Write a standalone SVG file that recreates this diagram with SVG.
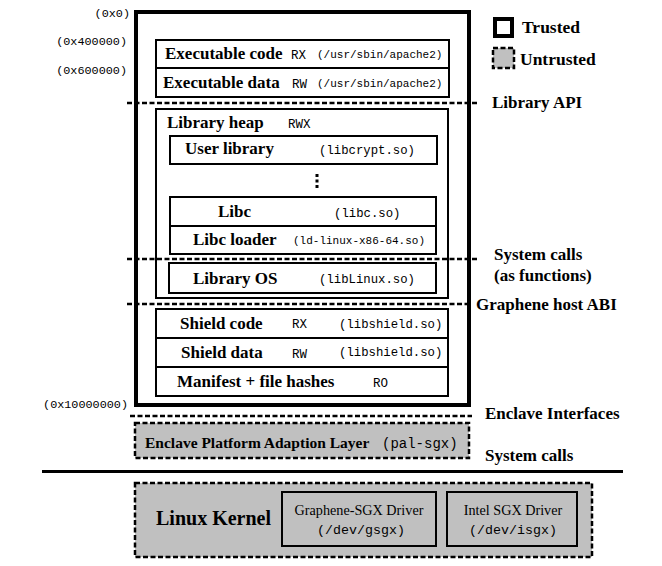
<svg xmlns="http://www.w3.org/2000/svg" width="662" height="566" viewBox="0 0 662 566">
<style>
.b{font-family:"Liberation Serif","Times New Roman",serif;font-weight:bold;font-size:17px;fill:#000}
.r{font-family:"Liberation Serif","Times New Roman",serif;font-size:14.2px;fill:#000}
.m{font-family:"Liberation Mono","Courier New",monospace;font-size:11px;fill:#000}
.p{font-family:"Liberation Mono","Courier New",monospace;font-size:12.5px;fill:#000}
.m12{font-family:"Liberation Mono","Courier New",monospace;font-size:12.3px;fill:#000}
.addr{font-family:"Liberation Mono","Courier New",monospace;font-size:11.8px;fill:#000;text-anchor:end}
.box{fill:#fff;stroke:#000;stroke-width:2}
.trusted{fill:#fff;stroke:#000;stroke-width:4}
.untr{fill:#c0c0c0;stroke:#000;stroke-width:2.5;stroke-dasharray:5 2.5}
.gbox{fill:#c0c0c0;stroke:#000;stroke-width:2}
.dash{stroke:#000;stroke-width:2.5;stroke-dasharray:5 2.5;fill:none}
</style>
<rect width="662" height="566" fill="#fff"/>
<g id="enclave">
<rect class="trusted" x="136" y="12" width="333" height="393"/>
</g>
<g id="exec-code"><rect class="box" x="156" y="40" width="293" height="28"/>
<text class="b" x="165" y="59">Executable code</text><text class="p" x="291" y="59">RX</text><text class="m" x="317" y="58">(/usr/sbin/apache2)</text></g>
<g id="exec-data"><rect class="box" x="156" y="68" width="293" height="29"/>
<text class="b" x="163" y="88">Executable data</text><text class="p" x="292" y="88">RW</text><text class="m" x="317" y="87">(/usr/sbin/apache2)</text></g>
<g id="library-heap"><rect class="box" x="156" y="109" width="292" height="189"/>
<text class="b" x="167" y="128">Library heap</text><text class="p" x="288" y="128">RWX</text></g>
<g id="user-library"><rect class="box" x="170" y="136" width="267" height="28"/>
<text class="b" x="185" y="154">User library</text><text class="m12" x="319" y="154">(libcrypt.so)</text></g>
<g id="dots"><rect x="315.5" y="174" width="3" height="3" fill="#000"/><rect x="315.5" y="179.5" width="3" height="3" fill="#000"/><rect x="315.5" y="185" width="3" height="3" fill="#000"/></g>
<g id="libc"><rect class="box" x="170" y="197" width="266" height="29"/>
<text class="b" x="218" y="217">Libc</text><text class="m12" x="334" y="217">(libc.so)</text></g>
<g id="libc-loader"><rect class="box" x="170" y="226" width="266" height="28"/>
<text class="b" x="193" y="245">Libc loader</text><text class="m" x="293" y="244">(ld-linux-x86-64.so)</text></g>
<g id="library-os"><rect class="box" x="169" y="263" width="267" height="30"/>
<text class="b" x="193" y="284">Library OS</text><text class="m12" x="319" y="283">(libLinux.so)</text></g>
<g id="shield-code"><rect class="box" x="156" y="309" width="292" height="29"/>
<text class="b" x="180" y="329">Shield code</text><text class="p" x="292" y="328">RX</text><text class="m12" x="339" y="328">(libshield.so)</text></g>
<g id="shield-data"><rect class="box" x="156" y="338" width="292" height="29"/>
<text class="b" x="181" y="358">Shield data</text><text class="p" x="292" y="358">RW</text><text class="m12" x="339" y="356">(libshield.so)</text></g>
<g id="manifest"><rect class="box" x="156" y="367" width="292" height="29"/>
<text class="b" x="177" y="387">Manifest + file hashes</text><text class="p" x="373" y="387">RO</text></g>
<g id="pal"><rect class="untr" x="135" y="423" width="334" height="35"/>
<text class="b" x="145" y="448" style="font-size:15.5px">Enclave Platform Adaption Layer</text><text class="m" x="382" y="448" style="font-size:14px">(pal-sgx)</text></g>
<g id="linux-kernel"><rect class="untr" x="135" y="483" width="457" height="74"/>
<text class="b" x="156" y="525" style="font-size:20px">Linux Kernel</text></g>
<g id="graphene-driver"><rect class="gbox" x="282" y="492" width="154" height="54"/>
<text class="r" x="359" y="515" text-anchor="middle">Graphene-SGX Driver</text><text class="m" x="361" y="534" text-anchor="middle" style="font-size:13.3px">(/dev/gsgx)</text></g>
<g id="intel-driver"><rect class="gbox" x="447" y="492" width="130" height="54"/>
<text class="r" x="513" y="515" text-anchor="middle">Intel SGX Driver</text><text class="m" x="513" y="534" text-anchor="middle" style="font-size:13.3px">(/dev/isgx)</text></g>
<g id="connectors">
<line class="dash" x1="127" y1="103" x2="478" y2="103"/>
<line class="dash" x1="127" y1="259" x2="478" y2="259"/>
<line class="dash" x1="127" y1="304" x2="470" y2="304"/>
<line class="dash" x1="130" y1="416" x2="472" y2="416"/>
<line x1="42" y1="471.5" x2="623" y2="471.5" stroke="#000" stroke-width="3"/>
</g>
<g id="legend">
<rect class="trusted" x="495" y="19" width="17" height="17"/>
<text class="b" x="522" y="33" style="font-size:17.5px">Trusted</text>
<rect class="untr" x="493" y="48" width="21" height="20"/>
<text class="b" x="520" y="65" style="font-size:17.5px">Untrusted</text>
</g>
<g id="labels">
<text class="b" x="492" y="108">Library API</text>
<text class="b" x="494" y="260">System calls</text>
<text class="b" x="494" y="281">(as functions)</text>
<text class="b" x="476" y="310">Graphene host ABI</text>
<text class="b" x="485" y="419">Enclave Interfaces</text>
<text class="b" x="485" y="461">System calls</text>
<text class="addr" x="130" y="17">(0x0)</text>
<text class="addr" x="127" y="45">(0x400000)</text>
<text class="addr" x="127" y="74">(0x600000)</text>
<text class="addr" x="128" y="408">(0x10000000)</text>
</g>
</svg>
